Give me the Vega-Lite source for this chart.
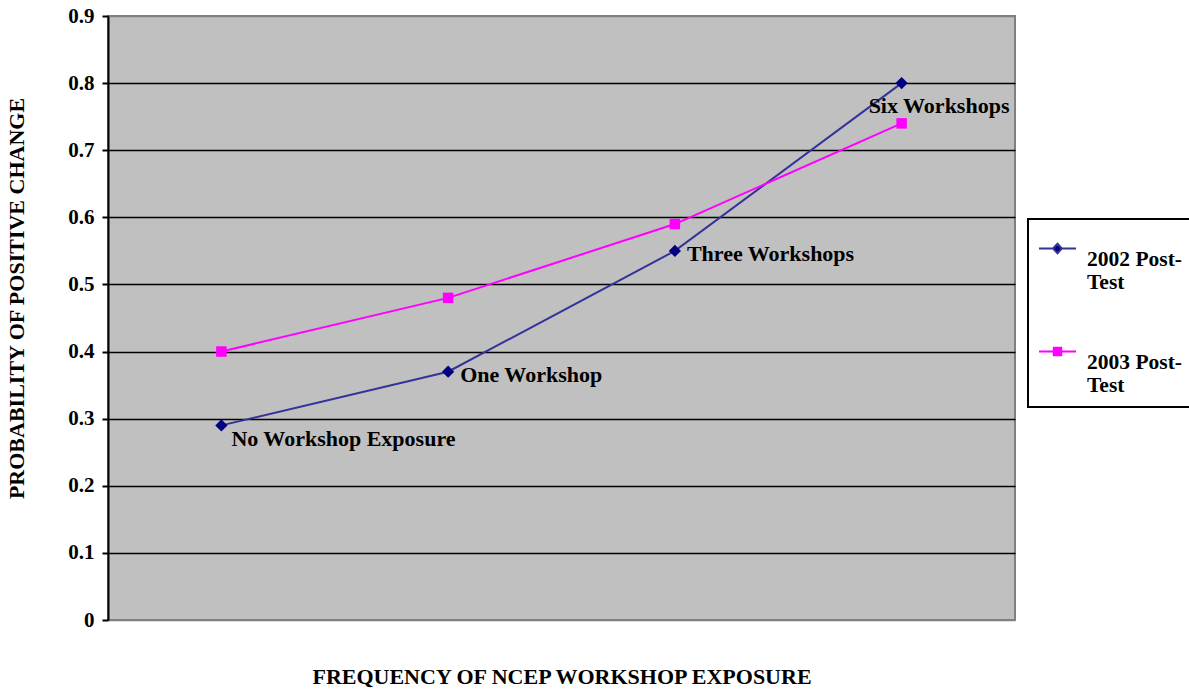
{
  "$schema": "https://vega.github.io/schema/vega-lite/v6.json",
  "width": 907,
  "height": 604,
  "autosize": {"type": "none"},
  "padding": {"left": 108, "top": 16, "right": 174, "bottom": 74},
  "background": "white",
  "config": {
    "view": {"fill": "#C0C0C0", "stroke": "#808080", "strokeWidth": 2},
    "font": "Liberation Serif"
  },
  "data": {
    "values": [
      {"exposure": "No Workshop Exposure", "series": "2002 Post-Test", "value": 0.29, "label": "No Workshop Exposure"},
      {"exposure": "One Workshop", "series": "2002 Post-Test", "value": 0.37, "label": "One Workshop"},
      {"exposure": "Three Workshops", "series": "2002 Post-Test", "value": 0.55, "label": "Three Workshops"},
      {"exposure": "Six Workshops", "series": "2002 Post-Test", "value": 0.80, "label": "Six Workshops"},
      {"exposure": "No Workshop Exposure", "series": "2003 Post-Test", "value": 0.40, "label": ""},
      {"exposure": "One Workshop", "series": "2003 Post-Test", "value": 0.48, "label": ""},
      {"exposure": "Three Workshops", "series": "2003 Post-Test", "value": 0.59, "label": ""},
      {"exposure": "Six Workshops", "series": "2003 Post-Test", "value": 0.74, "label": ""}
    ]
  },
  "encoding": {
    "x": {
      "field": "exposure",
      "type": "ordinal",
      "sort": ["No Workshop Exposure", "One Workshop", "Three Workshops", "Six Workshops"],
      "scale": {"type": "point", "padding": 0.5},
      "axis": {
        "title": "FREQUENCY OF NCEP WORKSHOP EXPOSURE",
        "labels": false,
        "ticks": false,
        "domain": false,
        "grid": false,
        "titleFont": "Liberation Serif",
        "titleFontSize": 22,
        "titleFontWeight": "bold",
        "titleColor": "black",
        "titlePadding": 46
      }
    },
    "y": {
      "field": "value",
      "type": "quantitative",
      "scale": {"domain": [0, 0.9], "nice": false},
      "axis": {
        "title": "PROBABILITY OF POSITIVE CHANGE",
        "values": [0, 0.1, 0.2, 0.3, 0.4, 0.5, 0.6, 0.7, 0.8, 0.9],
        "labelExpr": "datum.value == 0 ? '0' : format(datum.value, '.1f')",
        "labelFont": "Liberation Serif",
        "labelFontSize": 21,
        "labelFontWeight": "bold",
        "labelColor": "black",
        "labelPadding": 8,
        "tickSize": 6,
        "tickColor": "black",
        "tickWidth": 2,
        "domainColor": "black",
        "domainWidth": 2,
        "grid": true,
        "gridColor": {"condition": {"test": "datum.value == 0 || datum.value == 0.9", "value": "#808080"}, "value": "black"},
        "gridWidth": 1.5,
        "gridOpacity": 1,
        "titleFont": "Liberation Serif",
        "titleFontSize": 22,
        "titleFontWeight": "bold",
        "titleColor": "black",
        "titleX": -80,
        "titleY": 282
      }
    }
  },
  "layer": [
    {
      "mark": {"type": "line", "strokeWidth": 2},
      "encoding": {
        "color": {
          "field": "series",
          "type": "nominal",
          "scale": {"domain": ["2002 Post-Test", "2003 Post-Test"], "range": ["#333399", "#FF00FF"]},
          "legend": {
            "title": null,
            "orient": "none",
            "legendX": 920,
            "legendY": 203,
            "padding": 10,
            "strokeColor": "black",
            "fillColor": "white",
            "symbolSize": 1369,
            "symbolStrokeWidth": 2,
            "rowPadding": 38,
            "labelFont": "Liberation Serif",
            "labelFontSize": 21.5,
            "labelFontWeight": "bold",
            "labelColor": "black",
            "labelLimit": 200,
            "labelOffset": 10,
            "labelBaseline": "top",
            "labelLineHeight": 26,
            "labelExpr": "datum.label == '2002 Post-Test' ? ['2002 Post-', 'Test'] : ['2003 Post-', 'Test']",
            "encode": {
              "legend": {"update": {"strokeWidth": {"value": 2}}},
              "symbols": {
                "update": {
                  "shape": {"signal": "datum.value == '2002 Post-Test' ? 'M-1,0H-0.24M0.24,0H1M-0.24,0L0,-0.26L0.24,0L0,0.26Z' : 'M-1,0H-0.2M0.2,0H1M-0.2,-0.2H0.2V0.2H-0.2Z'"},
                  "fill": {"signal": "datum.value == '2002 Post-Test' ? '#000080' : '#FF00FF'"},
                  "stroke": {"signal": "datum.value == '2002 Post-Test' ? '#333399' : '#FF00FF'"},
                  "strokeWidth": {"value": 2},
                  "strokeOpacity": {"value": 1}
                }
              }
            }
          }
        }
      }
    },
    {
      "transform": [{"filter": "datum.series == '2002 Post-Test'"}],
      "mark": {"type": "point", "shape": "diamond", "filled": true, "opacity": 1, "size": 150, "color": "#000080"},
      "encoding": {}
    },
    {
      "transform": [{"filter": "datum.series == '2003 Post-Test'"}],
      "mark": {"type": "point", "shape": "square", "filled": true, "opacity": 1, "size": 110, "color": "#FF00FF"},
      "encoding": {}
    },
    {
      "transform": [{"filter": "datum.label == 'One Workshop' || datum.label == 'Three Workshops'"}],
      "mark": {"type": "text", "align": "left", "baseline": "middle", "dx": 12, "dy": 3, "fontSize": 22, "fontWeight": "bold", "font": "Liberation Serif", "color": "black"},
      "encoding": {"text": {"field": "label"}}
    },
    {
      "transform": [{"filter": "datum.label == 'No Workshop Exposure'"}],
      "mark": {"type": "text", "align": "left", "baseline": "middle", "dx": 10, "dy": 14, "fontSize": 22, "fontWeight": "bold", "font": "Liberation Serif", "color": "black"},
      "encoding": {"text": {"field": "label"}}
    },
    {
      "transform": [{"filter": "datum.label == 'Six Workshops'"}],
      "mark": {"type": "text", "align": "left", "baseline": "middle", "dx": -33, "dy": 23, "fontSize": 22, "fontWeight": "bold", "font": "Liberation Serif", "color": "black"},
      "encoding": {"text": {"field": "label"}}
    }
  ]
}
